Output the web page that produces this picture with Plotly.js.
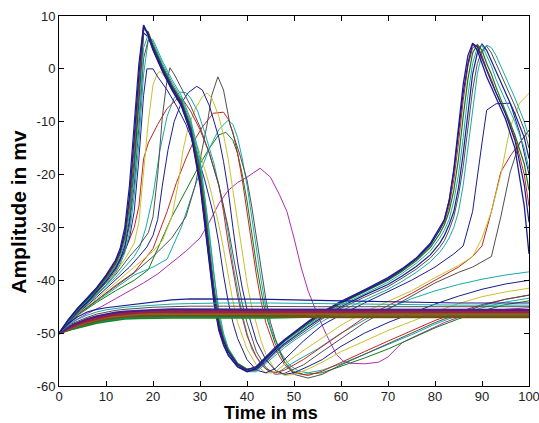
<!DOCTYPE html>
<html>
<head>
<meta charset="utf-8">
<script src="https://cdn.plot.ly/plotly-3.0.1.min.js"></script>
<style>html,body{margin:0;padding:0;background:#fff}#plot{width:539px;height:423px}</style>
</head>
<body>
<div id="plot"></div>
<script>
// ---------- tick labels ----------
const xTicks = [0,10,20,30,40,50,60,70,80,90,100];
const yTicks = [10,0,-10,-20,-30,-40,-50,-60];
const xTitle = 'Time in ms';
const yTitle = 'Amplitude in mv';

// ---------- family A: fast spikers (shared time base, ms) ----------
const tA = [0,2,4,6,8,10,12, 13,14,15,16,17,18,19,20, 22,24,26,28,30, 31,32,33,34,35,36, 38,40,42,44,46,48,50, 53,56,60,65,70, 73,76,79,81, 82,83,84,85,86,87,88,89,90,91,92,93, 95,97,99,100];
const vA1 = [-50,-47.5,-45.3,-43.5,-41.5,-39.2,-36.5, -34.5,-31,-24,-13,-1,8.3,6.5,4, 0,-3.5,-6.5,-11.5,-21, -28,-36,-43,-48.5,-51.5,-53.5, -56,-57,-56.3,-54.5,-52.7,-51.2,-49.8, -47.8,-46,-44,-41.8,-39.5, -37.8,-35.8,-33,-30, -28.5,-25,-19,-11,-3,2.5,4.8,3.5,1,-1.5,-3.5,-5.5, -9.5,-15,-26,-35];
const vA2 = [-50,-47.6,-45.5,-43.7,-41.8,-39.6,-37, -35,-32,-26,-17,-5,7.5,7,4.5, 0.5,-3,-6,-11,-19.5, -26,-34,-41.5,-47.5,-51,-53.2, -55.8,-56.8,-56.5,-54.8,-53,-51.5,-50.2, -48.2,-46.4,-44.4,-42.2,-40, -38.3,-36.3,-33.8,-31.2, -29.5,-27,-23,-17,-9,-2,3,4.6,3.5,1,-1,-3.5, -8,-12.5,-18,-23];
const vA3 = [-50,-47.7,-45.6,-43.9,-42,-39.9,-37.4, -35.5,-32.8,-27.5,-20,-9,4,6.5,5, 1,-2.5,-5.5,-10,-18, -24.5,-32,-40,-46.5,-50.5,-53, -55.6,-56.8,-56.7,-55,-53.3,-51.8,-50.5, -48.5,-46.7,-44.7,-42.5,-40.4, -38.7,-36.8,-34.5,-32, -30.5,-28.5,-25,-20,-13,-5,1,4,4.5,2.5,0.5,-2, -6,-10,-15,-19];
const vA4 = [-50,-47.8,-45.8,-44.1,-42.2,-40.2,-37.8, -36,-33.5,-28.5,-19,-6,6.8,6,3.5, -0.5,-4,-7,-12,-21.5, -29,-37,-44,-49,-52,-54, -56.3,-57.2,-56.8,-55.2,-53.5,-52,-50.7, -48.8,-47,-45,-42.8,-40.8, -39.2,-37.4,-35.2,-33, -31.5,-29.5,-27,-22.5,-16,-8,-1,3,4.7,3.5,1.5,-0.5, -4.5,-8.5,-13,-17];
const vA5 = [-50,-47.9,-46,-44.3,-42.5,-40.5,-38.2, -36.5,-34,-29.5,-22,-11,2,5.5,4.5, 0.5,-3,-6,-10.5,-19, -26,-34.5,-42,-47.5,-51,-53.5, -56,-57.3,-57,-55.5,-53.8,-52.3,-51, -49.2,-47.3,-45.3,-43.2,-41.2, -39.6,-37.9,-35.8,-33.8, -32.5,-30.5,-28,-24,-18.5,-11,-4,1,3.5,4.3,3,1, -3,-7,-11.5,-15];
const vA6 = [-50,-47.4,-45.2,-43.4,-41.4,-39,-36.2, -34,-30,-22,-11,1,8.2,6.2,3.7, -0.3,-3.8,-6.8,-12,-22, -29.5,-37.5,-44.5,-49.5,-52.3,-54.2, -56.4,-57.3,-56.6,-54.8,-53,-51.4,-50, -48,-46.2,-44.2,-42,-39.8, -38,-36,-33.3,-30.5, -28.5,-25,-19.5,-12,-4.5,1,4.8,4.2,2,-0.5,-2.5,-4.5, -8.5,-13.5,-22,-29];
const vA7 = [-50,-48,-46.1,-44.5,-42.8,-40.9,-38.7, -37,-34.8,-31,-24,-14,-1,5.5,5.5, 1.5,-2,-5,-9.5,-17, -23.5,-31,-39,-45.5,-50,-52.8, -55.7,-57.3,-57.3,-55.8,-54.2,-52.7,-51.4, -49.6,-47.8,-45.8,-43.7,-41.7, -40.2,-38.5,-36.5,-34.7, -33.5,-32,-30,-27,-22,-15,-7,-1,3,4.5,4,2.5, -1.5,-5.5,-10,-13];
const vA8 = [-50,-47.5,-45.4,-43.6,-41.6,-39.4,-36.8, -34.8,-31.5,-25,-15,-3,7.8,6.8,4.2, 0.2,-3.3,-6.3,-11.3,-20.3, -27,-35,-42.3,-48,-51.2,-53.4, -55.9,-56.9,-56.4,-54.7,-52.9,-51.4,-50, -48,-46.2,-44.2,-42,-39.7, -38,-36,-33.4,-30.6, -29,-26,-21,-14,-6,0.5,4,4.5,2.5,0,-2,-4.5, -8.5,-13,-20,-26];

// ---------- family B: delayed spikers ----------
const tB1 = [0,4,8,12,14,15,16,17,18,18.7,20,21,23,25,27,29,31,33,34,35,36,37,38,40,42,44,46,48,52,56,60,65,70,75,80,84,86,88,90,91,93,96,98,100];
const vB1 = [-50,-45.7,-42.2,-37.8,-34.5,-32,-27,-17,-5,0,0,-1.5,-4,-7,-10.5,-15,-21,-28,-33,-39,-44,-48,-51,-55,-57,-57.5,-56.7,-55,-51.5,-48.5,-46.5,-44.3,-42.2,-40,-37.5,-35,-33.5,-27,-14,-7.8,-6.6,-6.5,-12,-20];
const tB2 = [0,4,8,12,14,16,17,18,19,20,21,21.5,22.5,24,26,28,30,32,34,35,36,37,38,40,42,44,46,50,55,60,65,70,75,80,85,88,90,92,94,96,98,100];
const vB2 = [-50,-45.8,-42.5,-38.5,-36,-33,-29,-20,-10,-3,-0.8,-0.5,-1.5,-3.5,-7,-11,-16,-22,-29.5,-34,-39,-44,-48,-53,-56,-57.6,-57.3,-54.5,-51.5,-48.5,-46,-44,-42,-39.5,-37.2,-35.5,-32,-27,-20,-11,-6.5,-4.6];
const tB3 = [0,4,8,12,15,17,19,20,21,22,23,23.6,24.5,26,28,30,32,34,36,37,38,39,40,42,44,46,48,52,56,60,65,70,75,80,85,88,90,92,94,96,98,100];
const vB3 = [-50,-46,-42.8,-39,-35.5,-33.5,-31,-28,-20,-9,-2,0.2,-1,-3.5,-7,-11,-16,-22,-30,-35,-40,-44.5,-48,-53.5,-56.5,-57.8,-57.6,-56,-53.5,-51,-48,-45.5,-43,-40.5,-38.5,-37.5,-36.5,-35.5,-28,-19.5,-14,-11.6];
const tB4 = [0,4,8,12,14,16,17,18,19,21,23,25.3,26.5,28,30,32,34,35,36,37,38,39,40,42,44,46,48,52,56,60,65,70,75,80,85,88,90,92,94,96,98,100];
const vB4 = [-50,-45.6,-42,-37.5,-34.5,-30,-26,-17,-14,-10.5,-7.5,-5.5,-6,-8,-11.5,-16,-22,-27,-33,-38,-43,-47,-50.5,-54.5,-56.8,-57.5,-57,-55,-52.5,-50,-47,-44.8,-42.5,-40,-37.5,-35.5,-33.5,-27,-19.5,-16.5,-14,-11.6];
const tB5 = [0,4,8,12,14,16,17.2,18.5,20,21.5,23,24.5,25.7,27,28,29.5,31,33,35,36,37,38,39,40,41,43,45,47,50,55,60,65,70,75,80,85,90,95,100];
const vB5 = [-50,-46,-42.8,-39.5,-37.5,-35.5,-33.7,-30,-24,-15.3,-9,-5.5,-4.4,-4.5,-5.5,-8,-12,-18,-26,-31,-37,-42,-46.5,-50,-53,-56,-57.5,-57.2,-55.5,-53,-50,-47.5,-45.3,-43.5,-42,-40.8,-39.8,-39,-38.4];
const tB6 = [0,4,8,12,15,17,18.7,20,21,22,23.2,24.5,26,27.5,29.3,30.5,32,33,34,35,36,37,38,39,40,41,42,44,46,48,50,53,56,60,65,70,75,80,85,90,95,100];
const vB6 = [-50,-46.2,-43.2,-40,-37.5,-35.5,-33.7,-31.5,-28.5,-22,-15.3,-10,-6.5,-4.5,-3.3,-4,-7,-10,-13,-17.5,-23,-30,-36.5,-41.5,-45.5,-48.5,-51.5,-55,-57,-57.8,-57.5,-56.3,-55,-52.5,-50,-48,-46.3,-44.5,-43,-41.7,-40.7,-40];
const tB7 = [0,4,8,12,16,20,22,24,25.5,26.4,27.5,29,30.5,31.5,32.5,34,35,36,37,38,39,40,41,42,43,44,46,48,50,53,56,60,65,70,75,80,85,90,95,100];
const vB7 = [-50,-46.3,-43.5,-40.5,-37.5,-34.5,-32.5,-28,-21,-15.3,-11,-7.5,-5.3,-4.6,-5.5,-9,-12.5,-17,-23,-29,-35,-40.5,-45,-48.5,-51.5,-54,-57,-58,-57.8,-56.8,-55.5,-53.5,-51.5,-49.5,-47.8,-46,-44.4,-43.1,-42.2,-41.5];
const tB8 = [0,4,8,12,16,20,24,27,29,30.5,31.5,32.5,33.8,35,36.4,38.5,40,41,42,43,44,45,46,48,50,53,56,60,65,70,75,80,85,90,95,100];
const vB8 = [-50,-46.5,-43.8,-41.2,-38.6,-35.5,-32,-28,-22,-15,-10.6,-5,-1.5,-4,-10.6,-16.3,-21,-26,-32,-38,-43.5,-48,-51,-55.5,-57.8,-58.5,-57.8,-56,-54,-52,-50,-48,-46.3,-44.8,-43.6,-42.8];
const tB9 = [0,4,8,12,16,20,23,25,27,28.5,30.5,32.8,35,36,37,38,39,40,41,42,43,44,46,48,50,53,56,60,65,70,75,80,85,90,95,100];
const vB9 = [-50,-46.4,-43.8,-41,-38.5,-34,-27,-21.5,-17,-14,-11,-8.4,-8.2,-9.5,-12,-16,-21,-27,-33,-39,-44,-48,-53,-56,-57.5,-58,-57.2,-55.5,-53.5,-51.5,-49.5,-47.6,-46,-44.6,-43.6,-42.8];
const tB10 = [0,4,8,12,16,20,23,26,29,32,34,36,37,38,39,40,41,42,43,44,45,47,49,51,53,56,60,65,70,75,80,85,90,95,100];
const vB10 = [-50,-46.5,-44,-41.5,-39,-37.5,-36,-30,-22,-15,-11.5,-9.7,-10.5,-13,-17,-22,-28,-34,-40,-45,-49,-53.5,-56,-57.2,-57.5,-57,-55.8,-54,-52.2,-50.3,-48.3,-46.6,-45.2,-44.1,-43.4];
const tB11 = [0,4,8,12,16,19,21.5,24,27,30,32,34,35.5,37,38,39,40,41,42,43,44,46,48,50,52,56,60,65,70,75,80,85,90,95,100];
const vB11 = [-50,-46.6,-44.2,-42,-40,-38,-33,-28,-23,-18,-15,-12.5,-12,-13.5,-16,-20,-25,-31,-37,-42,-46.5,-52,-55.5,-57.3,-57.8,-57.5,-56.3,-54.7,-53,-51,-49,-47.3,-45.8,-44.6,-43.9];
const tB12 = [0,3,6,9,12,15,18,21,24,27,30,32,34,36,38,40,42.8,45,47,48.5,50,51.5,53,55,57,59,60.5,62,65,68,70,73,76,79,82,85,90,95,100];
const vB12 = [-50,-47.8,-46.3,-45,-43.5,-42,-40.5,-38.8,-36.7,-34.5,-32,-29,-25.5,-23,-21.5,-20.5,-18.8,-20.5,-24,-27,-32,-37.5,-42,-46.5,-50.5,-54,-55.3,-55.7,-55.8,-55.5,-54.5,-51.8,-50.5,-49.2,-48,-47,-46,-45.5,-45.2];

// ---------- family C: sub-threshold responses ----------
const tC = [0,1,2,3,4,6,8,10,12,14,17,20,24,28,35,45,55,65,75,85,100];
const vC1 = [-50,-49,-48.2,-47.5,-46.9,-46,-45.5,-45.2,-45,-44.8,-44.5,-44.1,-43.7,-43.5,-43.5,-43.6,-43.8,-44,-44.2,-44.3,-44.3];
const vC2 = [-50,-49.2,-48.5,-47.9,-47.4,-46.6,-46,-45.6,-45.3,-45.1,-44.9,-44.7,-44.5,-44.4,-44.3,-44.3,-44.4,-44.5,-44.6,-44.7,-44.7];
const vC3 = [-50,-49.3,-48.7,-48.1,-47.7,-47,-46.4,-46,-45.7,-45.5,-45.3,-45.1,-45,-44.9,-44.9,-45,-45,-45,-45,-45,-45];
const vC4 = [-50,-49.4,-48.9,-48.4,-48,-47.3,-46.8,-46.4,-46.1,-45.9,-45.7,-45.6,-45.5,-45.5,-45.5,-45.5,-45.6,-45.6,-45.6,-45.6,-45.6];
const vC5 = [-50,-49.5,-49,-48.6,-48.2,-47.5,-47,-46.6,-46.3,-46.1,-45.9,-45.8,-45.8,-45.8,-45.8,-45.8,-45.8,-45.8,-45.8,-45.8,-45.8];
const vC6 = [-50,-49.5,-49.1,-48.7,-48.3,-47.7,-47.2,-46.8,-46.5,-46.3,-46.1,-46,-46,-46,-46,-46,-46,-46,-46,-46,-46];
const vC7 = [-50,-49.6,-49.2,-48.8,-48.5,-47.9,-47.4,-47,-46.8,-46.6,-46.4,-46.3,-46.3,-46.3,-46.3,-46.3,-46.4,-46.4,-46.4,-46.4,-46.4];
const vC8 = [-50,-49.6,-49.3,-48.9,-48.6,-48.1,-47.6,-47.3,-47,-46.8,-46.7,-46.6,-46.6,-46.6,-46.6,-46.7,-46.9,-46.9,-46.9,-46.9,-46.9];
const vC9 = [-50,-49.7,-49.4,-49.1,-48.8,-48.3,-47.9,-47.6,-47.3,-47.1,-47,-46.9,-46.9,-46.9,-46.9,-46.9,-46.8,-46.8,-46.8,-46.8,-46.8];
const vC10 = [-50,-49.7,-49.5,-49.2,-49,-48.5,-48.1,-47.8,-47.5,-47.3,-47.2,-47.1,-47.1,-47.1,-47.1,-47.1,-46.9,-46.9,-46.9,-46.9,-46.9];

// ---------- styles ----------
const NAVY='#1c1c8e', GREEN='#137a13', RED='#c62424', CYAN='#1aa9a9', MAG='#b02cb0', YEL='#c9c22c', GRAY='#4f4f4f';

const series = [
  // delayed spikers
  [tB12,vB12,MAG,1],[tB11,vB11,GREEN,1],[tB10,vB10,CYAN,1],[tB9,vB9,RED,1],[tB8,vB8,GRAY,1],
  [tB7,vB7,YEL,1],[tB6,vB6,NAVY,1],[tB5,vB5,CYAN,1],[tB4,vB4,RED,1],[tB3,vB3,GRAY,1],
  [tB2,vB2,YEL,1],[tB1,vB1,NAVY,1],
  // fast spikers
  [tA,vA7,CYAN,1],[tA,vA5,GRAY,1],[tA,vA4,NAVY,1.2],[tA,vA3,CYAN,1],[tA,vA2,GREEN,1.2],
  [tA,vA8,RED,1],[tA,vA6,NAVY,1.2],[tA,vA1,NAVY,1.3],
  // sub-threshold
  [tC,vC10,'#138a13',2],[tC,vC9,'#138a6a',2],[tC,vC8,'#6e5410',3],[tC,vC7,'#86661a',2.5],
  [tC,vC6,'#a81e3c',2.5],[tC,vC5,'#94204e',2.5],[tC,vC4,'#4a1e88',2],[tC,vC3,GRAY,1],
  [tC,vC2,CYAN,1],[tC,vC1,NAVY,1.2]
];

const traces = series.map(s => ({
  type:'scatter', mode:'lines', x:s[0], y:s[1],
  line:{color:s[2], width:s[3]}, hoverinfo:'skip'
}));

const FAM = 'Arial, Liberation Sans, sans-serif';
const axFont = {family:FAM, size:13, color:'#222'};
const xTitleFont = {family:FAM, size:18, color:'#000', weight:'bold'};
const yTitleFont = {family:FAM, size:21, color:'#000', weight:'bold'};

const layout = {
  width:539, height:423,
  margin:{l:59, r:10, t:16, b:37, pad:0},
  paper_bgcolor:'#fff', plot_bgcolor:'#fff',
  showlegend:false,
  xaxis:{range:[0,100], tickmode:'array', tickvals:xTicks, ticktext:xTicks.map(String),
    ticks:'inside', ticklen:5, tickwidth:1, tickcolor:'#000', ticklabeloverflow:'allow',
    ticklabelstandoff:-2,
    showline:true, linecolor:'#000', linewidth:1, mirror:'ticks',
    showgrid:false, zeroline:false, tickfont:axFont},
  yaxis:{range:[-60,10], tickmode:'array', tickvals:yTicks, ticktext:yTicks.map(String),
    ticks:'inside', ticklen:5, tickwidth:1, tickcolor:'#000', ticklabeloverflow:'allow',
    showline:true, linecolor:'#000', linewidth:1, mirror:'ticks',
    showgrid:false, zeroline:false, tickfont:axFont},
  annotations:[
    {text:'<b>'+xTitle+'</b>', xref:'paper', yref:'paper', x:0.451, y:-0.0735,
     xanchor:'center', yanchor:'middle', showarrow:false, font:xTitleFont},
    {text:'<b>'+yTitle+'</b>', xref:'paper', yref:'paper', x:-0.088, y:0.47,
     xanchor:'center', yanchor:'middle', textangle:-90, showarrow:false, font:yTitleFont}
  ]
};

Plotly.newPlot('plot', traces, layout, {staticPlot:true, displayModeBar:false});
</script>
</body>
</html>
